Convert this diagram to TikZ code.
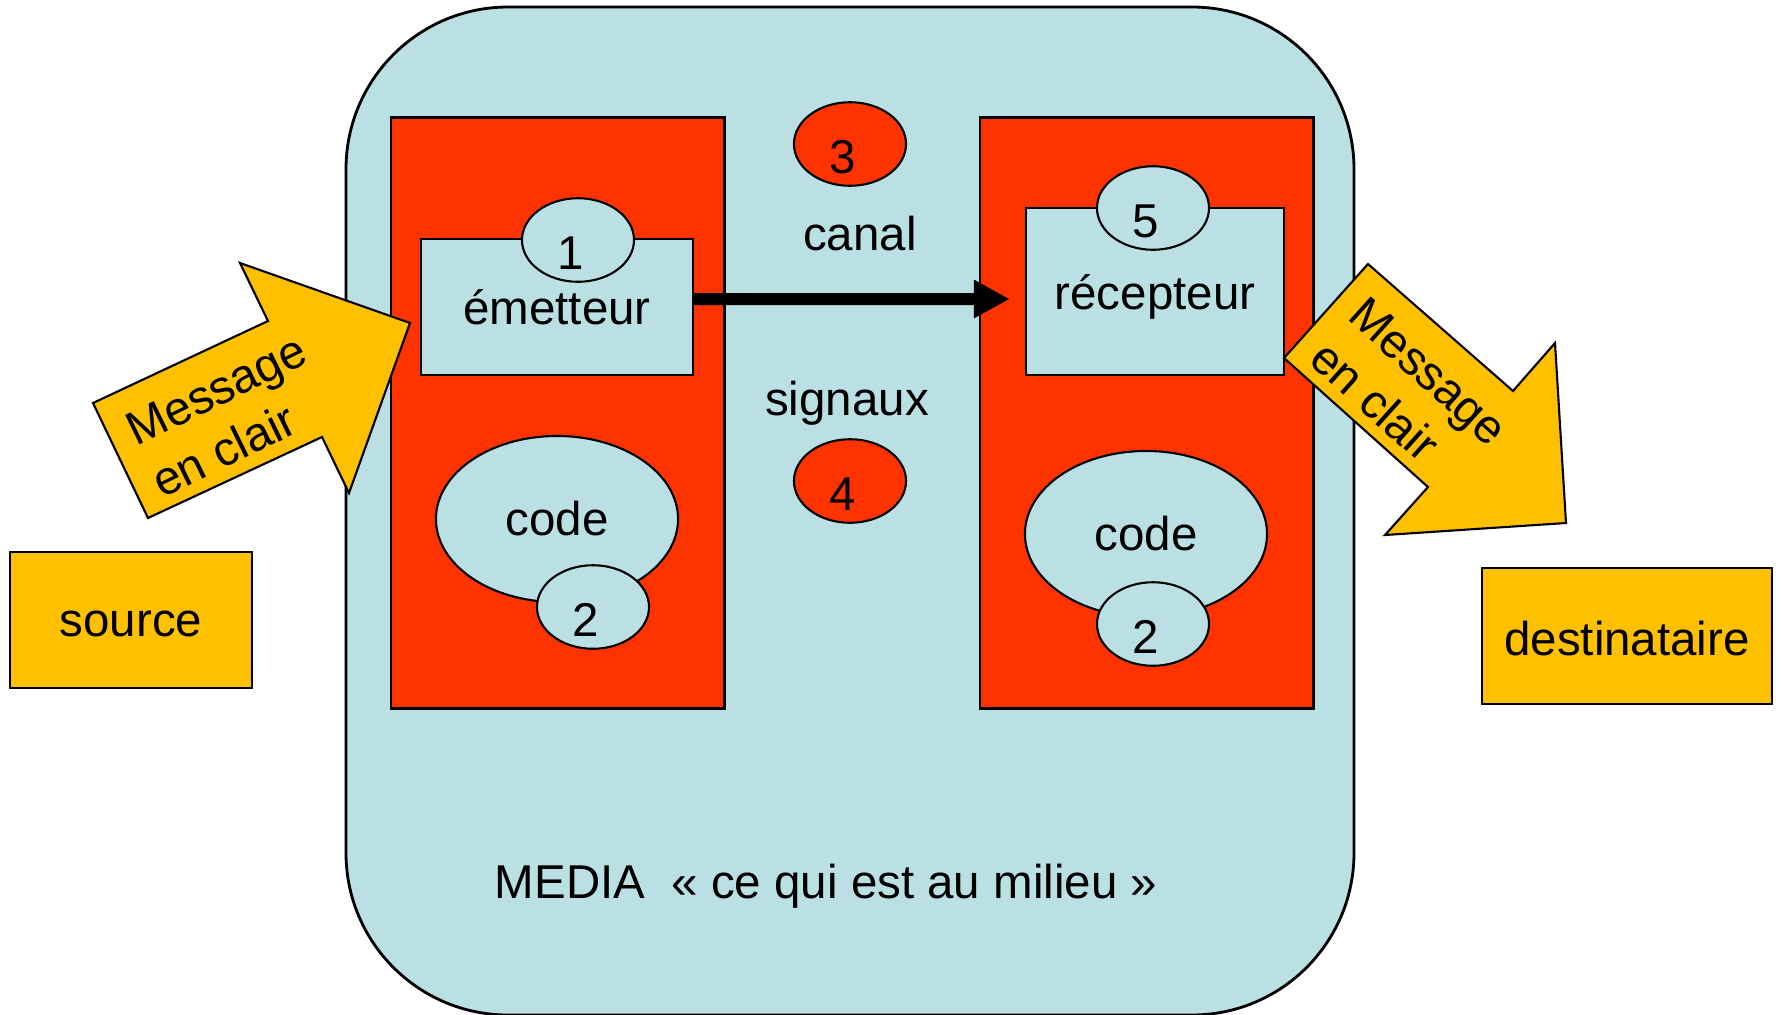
\documentclass[tikz,border=0pt]{standalone}
\usepackage{fontspec}
\setmainfont{Liberation Sans}
\usetikzlibrary{shapes.geometric,arrows.meta}
\definecolor{mediablue}{HTML}{BBE0E3}
\definecolor{zonered}{HTML}{FF3300}
\definecolor{msgyellow}{HTML}{FFC000}
\newcommand{\tagnum}[1]{\hspace*{-0.15cm}#1}

\begin{document}
\begin{tikzpicture}[x=0.01cm, y=-0.01cm, font=\fontsize{13.5}{16.5}\selectfont,
    mediabox/.style={draw, line width=0.8pt, fill=mediablue, rounded corners=1.62cm},
    redzone/.style={draw, line width=0.8pt, fill=zonered, minimum width=3.33cm, minimum height=5.90cm, inner sep=0pt},
    unit/.style={draw, line width=0.6pt, fill=mediablue, inner sep=0pt},
    tag/.style={ellipse, draw, line width=0.6pt, fill=mediablue, minimum width=1.12cm, minimum height=0.80cm, inner sep=0pt, text height=16.8pt, text depth=0pt},
    codeshape/.style={ellipse, draw, line width=0.6pt, fill=mediablue, minimum width=2.42cm, minimum height=1.66cm, inner sep=0pt},
    yellowbox/.style={draw, line width=0.6pt, fill=msgyellow, minimum height=1.36cm, inner sep=0pt, text depth=0pt},
    msgarrow/.style={draw, line width=0.6pt, fill=msgyellow, line join=miter}]
    \useasboundingbox (0,0) rectangle (1781,1014);

    % le milieu
    \draw[mediabox] (346,7) rectangle (1354,1015);
    \node (media) at (826,886) {MEDIA\ \ « ce qui est au milieu »};

    % cote emission
    \node[redzone] (emitzone) at (557.5,413) {};
    \node[unit, minimum width=2.72cm, minimum height=1.36cm] (emet) at (557,307) {émetteur};
    \node[tag] (t1) at (578,240) {\tagnum{1}};
    \node[codeshape] (codeE) at (557,519) {code};
    \node[tag] (t2e) at (593,607) {\tagnum{2}};

    % cote reception
    \node[redzone] (recvzone) at (1146.5,413) {};
    \node[unit, minimum width=2.58cm, minimum height=1.67cm, text height=13pt, text depth=2.85pt] (recep) at (1155,291.5) {récepteur};
    \node[tag] (t5) at (1153,208) {\tagnum{5}};
    \node[codeshape] (codeR) at (1146,534) {code};
    \node[tag] (t2r) at (1153,624) {\tagnum{2}};

    % canal
    \node[tag, fill=zonered] (t3) at (850,144) {\tagnum{3}};
    \node (canal) at (860,234) {canal};
    \node (signaux) at (847,403) {signaux};
    \node[tag, fill=zonered] (t4) at (850,481) {\tagnum{4}};
    \draw[line width=0.12cm, -{Triangle[length=0.36cm, width=0.36cm]}]
        ([yshift=0.08cm]emet.east) -- ([xshift=-0.15cm, yshift=-0.075cm]recep.west);

    % source et destinataire
    \node[yellowbox, minimum width=2.42cm, text height=9.6pt] (source) at (131,620) {source};
    \node[yellowbox, minimum width=2.90cm, text height=11pt] (dest) at (1627,636) {destinataire};

    % messages en clair
    \draw[msgarrow] (410,323) -- (240,263) -- (268,321) -- (93,403) -- (148,518)
        -- (322,437) -- (349,493) -- cycle;
    \node[rotate=26, align=left] (msgin) at (229,416) {Message\\en clair};
    \draw[msgarrow] (1368,264) -- (1513,391) -- (1555,343) -- (1566,523) -- (1385,535)
        -- (1428,487) -- (1284,358) -- cycle;
    \node[rotate=-42, align=left] (msgout) at (1409,393) {Message\\en clair};
\end{tikzpicture}
\end{document}
